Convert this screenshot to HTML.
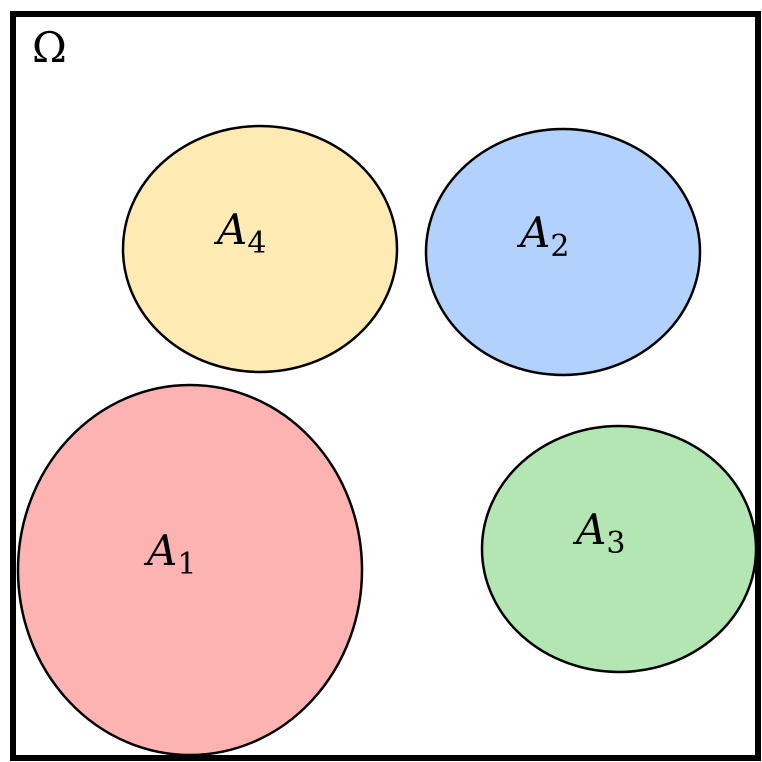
<!DOCTYPE html>
<html><head><meta charset="utf-8"><style>
html,body{margin:0;padding:0;background:#fff;}
svg{display:block;}
text{font-family:"DejaVu Serif","Liberation Serif",serif;}
</style></head><body>
<svg width="762" height="762" viewBox="0 0 762 762">
<rect x="13" y="14" width="745" height="744" fill="#fff" stroke="#000" stroke-width="6"/>
<text x="32" y="62" font-size="42">Ω</text>
<g id="sets"></g>
</svg>
<script>
const names=["A4","A2","A1","A3"];
const cx=[260,563,190,619];
const cy=[249,252,570,549];
const rx=[137,137,172,137];
const ry=[123,123,185,123];
const subs=["4","2","1","3"];
const fills=["#feebb3","#b3d1fd","#feb3b3","#b3e6b3"];
const g=document.getElementById('sets');
const ns="http://www.w3.org/2000/svg";
for(let i=0;i<names.length;i++){
 const e=document.createElementNS(ns,'ellipse');
 
 
 e.setAttribute('cx',cx[i]);e.setAttribute('cy',cy[i]);
 e.setAttribute('rx',rx[i]);e.setAttribute('ry',ry[i]);
 e.setAttribute('fill',fills[i]);e.setAttribute('stroke','#000');e.setAttribute('stroke-width','2.5');
 g.appendChild(e);
 const t=document.createElementNS(ns,'text');
 
 
 t.setAttribute('x',cx[i]-43);t.setAttribute('y',cy[i]-5);
 t.setAttribute('font-size','42');
 t.innerHTML='<tspan font-style="italic">A</tspan><tspan font-size="30" dy="9">'+subs[i]+'</tspan>';
 g.appendChild(t);
}
</script>
</body></html>
